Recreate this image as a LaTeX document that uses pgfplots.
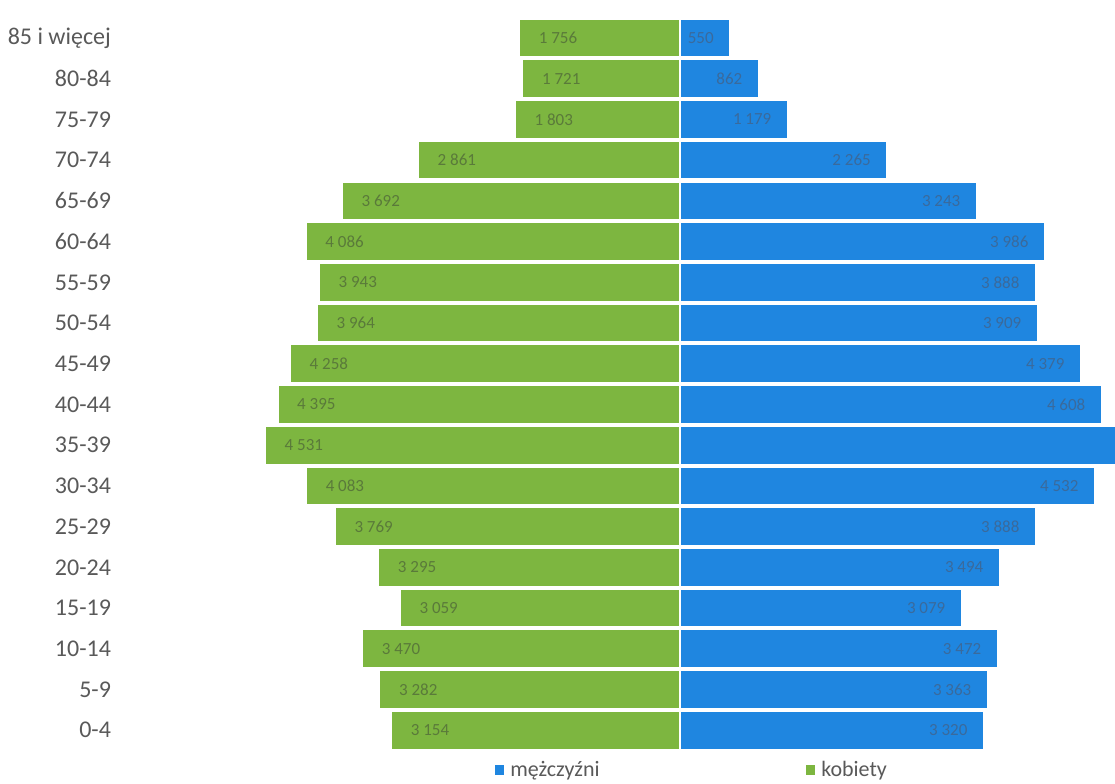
\documentclass[border=0pt]{standalone}
\usepackage{pgfplots}
\usepackage{pgfplotstable}
\pgfplotsset{compat=1.18}
\usepackage{fontspec}
\setmainfont{Carlito}
\definecolor{kob}{HTML}{7DB640}
\definecolor{mez}{HTML}{1F86E0}
\definecolor{txt}{HTML}{595959}
\definecolor{kobtxt}{HTML}{5A7A3A}
\definecolor{meztxt}{HTML}{3A6A9C}

% y = pozycja grupy wieku (0 = 0-4), m = mezczyzni, k = kobiety
\pgfplotstableread{
y m k
0 3320 3154
1 3363 3282
2 3472 3470
3 3079 3059
4 3494 3295
5 3888 3769
6 4532 4083
7 4800 4531
8 4608 4395
9 4379 4258
10 3909 3964
11 3888 3943
12 3986 4086
13 3243 3692
14 2265 2861
15 1179 1803
16 862 1721
17 550 1756
}\dane

\begin{document}
\begin{tikzpicture}
\begin{axis}[
	name=ax,
	xbar,
	scale only axis,
	width=498.5pt,
	height=366.5pt,
	xmin=-6137, xmax=4750,
	ymin=-0.5, ymax=17.5,
	bar width=0.95,
	ytick={0,...,17},
	yticklabels={0-4,5-9,10-14,15-19,20-24,25-29,30-34,35-39,40-44,45-49,50-54,55-59,60-64,65-69,70-74,75-79,80-84,{85 i więcej}},
	yticklabel style={font=\fontsize{12}{14}\selectfont, text=txt},
	xtick=\empty,
	axis line style={draw=none},
	major tick length=0pt,
	/pgf/number format/1000 sep={\ },
	/pgf/number format/assume math mode=true,
	legend image code/.code={\fill[#1] (0pt,-2.9pt) rectangle (5.8pt,2.9pt);},
	legend columns=2,
	legend style={draw=none, fill=none, inner sep=0pt,
		at={(axis cs:-2050,-0.5)}, anchor=north west, yshift=-3pt,
		font=\fontsize{11}{13}\selectfont, text=txt,
		/tikz/every even column/.append style={column sep=100pt}},
]
\addplot[
	fill=mez, draw=white, line width=1pt,
	bar shift=0pt,
	point meta=\thisrow{m},
	nodes near coords,
	every node near coord/.append style={anchor=east, xshift=-4.5pt,
		font=\fontsize{8.5}{10}\selectfont, text=meztxt},
] table[x=m, y=y] {\dane};
\addplot[
	fill=kob, draw=white, line width=1pt,
	bar shift=0pt,
	point meta=\thisrow{k},
	nodes near coords,
	every node near coord/.append style={anchor=west, xshift=6pt,
		font=\fontsize{8.5}{10}\selectfont, text=kobtxt},
] table[x expr=-\thisrow{k}, y=y] {\dane};
\legend{mężczyźni, kobiety}
\end{axis}
\pgfresetboundingbox
\path ([xshift=-59pt,yshift=-16.3pt]ax.south west) rectangle ([yshift=8.8pt]ax.north east);
\end{tikzpicture}
\end{document}
